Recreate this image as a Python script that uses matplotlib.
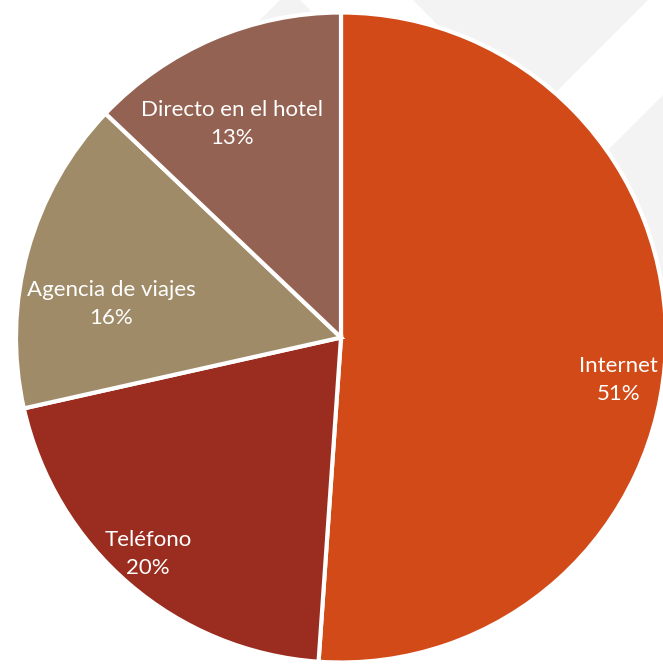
import numpy as np
import matplotlib.pyplot as plt
from matplotlib.patches import Polygon

# data
categories = ["Internet", "Teléfono", "Agencia de viajes", "Directo en el hotel"]
shares = [51.1, 20.4, 15.6, 12.9]
colors = ["#D24A17", "#9A2D1F", "#A08B68", "#946252"]

# where each label sits: angle (deg) and fraction of the radius
label_angle = [-8.7, -131.7, 171.7, 117.0]
label_r = [0.865, 0.892, 0.715, 0.738]

W, H = 663, 664
cx, cy, R = 341, 337.5, 325

fig = plt.figure(figsize=(W / 100, H / 100), dpi=100)

# faint watermark behind the chart (pixel coords, y down)
bg = fig.add_axes([0, 0, 1, 1])
bg.set_xlim(0, W)
bg.set_ylim(H, 0)
bg.axis("off")
grey = "#F3F3F3"
bg.add_patch(Polygon([(413, 0), (648, 0), (530, 118)], color=grey, lw=0))
bg.add_patch(Polygon([(663, 95), (560, 198), (600, 330), (663, 330)], color=grey, lw=0))
bg.add_patch(Polygon([(280, 0), (300, 0), (340, 40), (240, 40)], color=grey, lw=0))

ax = fig.add_axes([0, 0, 1, 1])
ax.patch.set_alpha(0)
wedges, _ = ax.pie(shares, colors=colors, startangle=90, counterclock=False,
                   radius=1, wedgeprops=dict(edgecolor="white", linewidth=3))
ax.set_xlim(-cx / R, (W - cx) / R)
ax.set_ylim(-(H - cy) / R, cy / R)
ax.axis("off")

total = sum(shares)
for name, v, a, r in zip(categories, shares, label_angle, label_r):
    t = np.deg2rad(a)
    ax.text(r * np.cos(t), r * np.sin(t), f"{name}\n{v / total * 100:.0f}%",
            ha="center", va="center", color="white", fontsize=16,
            family="Lato", linespacing=1.5)

fig.savefig("out.png", dpi=100)
